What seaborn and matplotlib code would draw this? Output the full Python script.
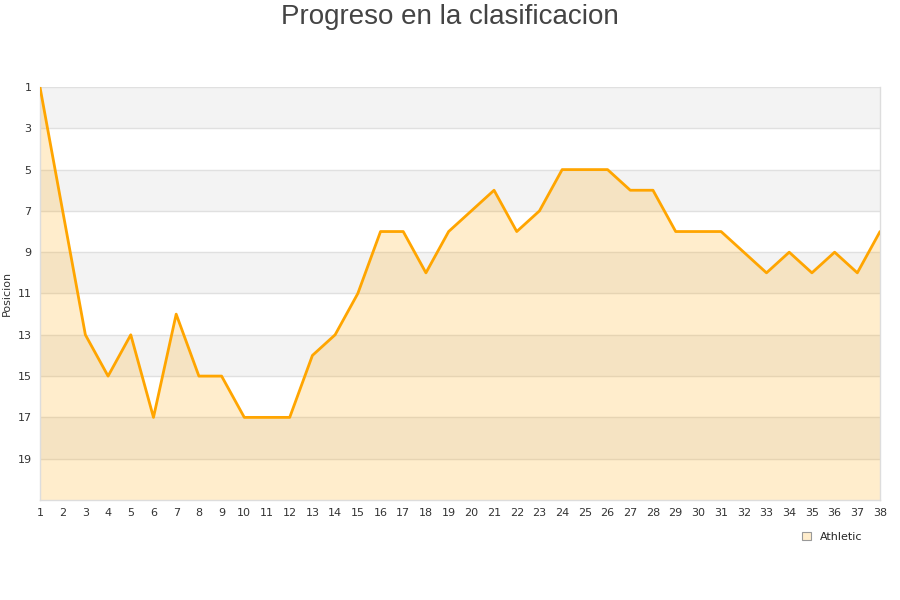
import numpy as np
import pandas as pd
import matplotlib
matplotlib.use('Agg')
import matplotlib.pyplot as plt
from matplotlib.patches import Patch
import seaborn as sns

# datos: jornada y posicion del Athletic
jornadas = list(range(1, 39))
posiciones = [1, 7, 13, 15, 13, 17, 12, 15, 15, 17,
              17, 17, 14, 13, 11, 8, 8, 10, 8, 7,
              6, 8, 7, 5, 5, 5, 6, 6, 8, 8,
              8, 9, 10, 9, 10, 9, 10, 8]
equipo = 'Athletic'
y_ticks = list(range(1, 20, 2))

df = pd.DataFrame({'Jornada': jornadas, 'Posicion': posiciones})

sns.set_theme(style='white')
plt.rcParams['font.family'] = ['DejaVu Sans']

fig = plt.figure(figsize=(9, 6), dpi=100)
ax = fig.add_axes([0.0444, 0.1667, 0.9334, 0.6883])

# bandas alternas de fondo
for i, y0 in enumerate(range(1, 21, 2)):
    if i % 2 == 0:
        ax.axhspan(y0, y0 + 2, color='#f3f3f3', zorder=0, lw=0)
for y0 in range(1, 21, 2):
    ax.axhline(y0, color='#e0e0e0', lw=1, zorder=1)

ax.fill_between(df['Jornada'], df['Posicion'], 21, color='#ffa500', alpha=0.2, lw=0, zorder=2)
sns.lineplot(data=df, x='Jornada', y='Posicion', color='#ffa500', linewidth=2, ax=ax, zorder=3)

ax.set_xlim(1, 38)
ax.set_ylim(21, 1)
ax.set_xticks(jornadas)
ax.set_yticks(y_ticks)
ax.tick_params(axis='both', labelsize=8, colors='#333333', length=0, pad=6)
ax.set_xlabel('')
ax.set_ylabel('Posicion', fontsize=8, color='#333333', labelpad=4)

ax.spines['top'].set_visible(False)
for s in ['left', 'bottom', 'right']:
    ax.spines[s].set_color('#dddddd')
    ax.spines[s].set_linewidth(1)

fig.suptitle('Progreso en la clasificacion', fontsize=20, color='#444444',
             family=['Liberation Sans', 'DejaVu Sans'], y=0.993)

handle = Patch(facecolor='#ffedcc', edgecolor='#999999', linewidth=0.8)
fig.legend([handle], [equipo], loc='center', bbox_to_anchor=(0.925, 0.105),
           frameon=False, fontsize=8, handlelength=0.8, handleheight=0.8,
           handletextpad=0.8)

fig.savefig('out.png', dpi=100)
